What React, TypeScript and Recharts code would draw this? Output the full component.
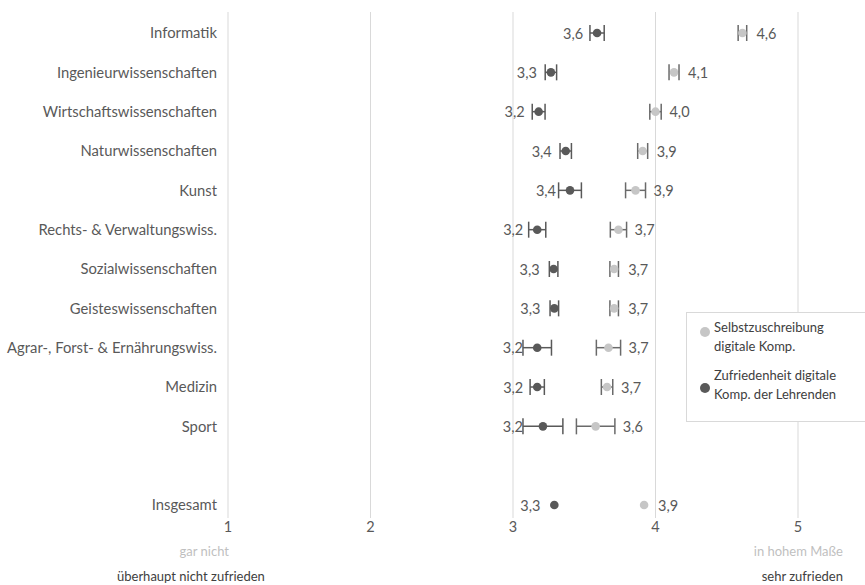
import React from "react";
import { ScatterChart, Scatter, XAxis, YAxis, CartesianGrid, ErrorBar } from "recharts";

const categories = [
  "Informatik",
  "Ingenieurwissenschaften",
  "Wirtschaftswissenschaften",
  "Naturwissenschaften",
  "Kunst",
  "Rechts- & Verwaltungswiss.",
  "Sozialwissenschaften",
  "Geisteswissenschaften",
  "Agrar-, Forst- & Ernährungswiss.",
  "Medizin",
  "Sport",
  "",
  "Insgesamt",
];
const selfValues = [4.61, 4.13, 4.0, 3.91, 3.86, 3.74, 3.71, 3.71, 3.67, 3.66, 3.58, null, 3.92];
const selfErr = [0.03, 0.035, 0.04, 0.035, 0.07, 0.057, 0.03, 0.03, 0.085, 0.04, 0.135, null, 0];
const teacherValues = [3.59, 3.266, 3.18, 3.37, 3.4, 3.17, 3.285, 3.29, 3.17, 3.17, 3.21, null, 3.29];
const teacherErr = [0.05, 0.04, 0.045, 0.04, 0.08, 0.06, 0.03, 0.03, 0.1, 0.05, 0.14, null, 0];
const xTicks = [1, 2, 3, 4, 5];
const legendLines = [
  ["Selbstzuschreibung", "digitale Komp."],
  ["Zufriedenheit digitale", "Komp. der Lehrenden"],
];

const FONT = "Lato, 'Open Sans', sans-serif";
const DARK = "#595959";
const LIGHT = "#c6c6c6";

const fmt = (v: number) => v.toFixed(1).replace(".", ",");

const build = (vals: (number | null)[], errs: (number | null)[]) =>
  vals
    .map((v, i) => (v == null ? null : { x: v, y: i, err: errs[i] ?? 0, label: fmt(v) }))
    .filter(Boolean) as { x: number; y: number; err: number; label: string }[];

const selfData = build(selfValues, selfErr);
const teacherData = build(teacherValues, teacherErr);
const selfLabelData = selfData.map((d) => ({ ...d, x: d.x + Math.max(0.098, d.err + 0.056) }));
const teacherLabelData = teacherData.map((d) => ({ ...d, x: d.x - Math.max(0.098, d.err) }));

const Dot = (color: string) => (p: any) => <circle cx={p.cx} cy={p.cy} r={4.3} fill={color} />;
const LabelShape = (anchor: "start" | "end") => (p: any) => (
  <text
    x={p.cx}
    y={p.cy}
    textAnchor={anchor}
    dominantBaseline="central"
    fontFamily={FONT}
    fontSize={14.5}
    fill={DARK}
  >
    {p.payload.label}
  </text>
);

const LegendBox = () => (
  <div
    style={{
      position: "absolute",
      left: 686,
      top: 312,
      border: "1px solid #d9d9d9",
      width: 182,
      height: 110,
      background: "#fff",
      fontFamily: FONT,
      fontSize: 13,
      color: "#404040",
      boxSizing: "border-box",
    }}
  >
    {[
      { color: LIGHT, lines: legendLines[0], top: 5 },
      { color: DARK, lines: legendLines[1], top: 53 },
    ].map((it, k) => (
      <div key={k} style={{ position: "absolute", left: 13, top: it.top, display: "flex", alignItems: "center" }}>
        <span
          style={{
            width: 10,
            height: 10,
            borderRadius: 5,
            background: it.color,
            display: "inline-block",
            marginRight: 4,
            marginTop: k === 0 ? -10 : 6,
          }}
        />
        <div style={{ lineHeight: "19px" }}>
          {it.lines.map((l) => (
            <div key={l}>{l}</div>
          ))}
        </div>
      </div>
    ))}
  </div>
);

const txt = (style: React.CSSProperties, content: string, color: string) => (
  <div
    style={{
      position: "absolute",
      fontFamily: FONT,
      fontSize: 13,
      color,
      whiteSpace: "nowrap",
      ...style,
    }}
  >
    {content}
  </div>
);

export default function App() {
  return (
    <div style={{ position: "absolute", left: 0, top: 0, width: 865, height: 585, background: "#fff" }}>
      <ScatterChart width={865} height={585} margin={{ top: 12, right: 67, bottom: 0, left: 0 }}>
        <CartesianGrid horizontal={false} stroke="#d9d9d9" strokeWidth={1} />
        <XAxis
          type="number"
          dataKey="x"
          domain={[1, 5]}
          ticks={xTicks}
          axisLine={false}
          tickLine={false}
          tickSize={0}
          tickMargin={4}
          height={67}
          tick={{ fontFamily: FONT, fontSize: 14.5, fill: DARK }}
          allowDataOverflow
        />
        <YAxis
          type="number"
          dataKey="y"
          domain={[-0.534, 12.33]}
          reversed
          ticks={categories.map((_, i) => i)}
          interval={0}
          tickFormatter={(i: number) => categories[i] ?? ""}
          axisLine={false}
          tickLine={false}
          tickSize={0}
          tickMargin={11}
          width={228}
          tick={{ fontFamily: FONT, fontSize: 14.8, fill: DARK }}
          allowDataOverflow
        />
        <Scatter name="Selbstzuschreibung digitale Komp." data={selfData} isAnimationActive={false} shape={Dot(LIGHT)}>
          <ErrorBar dataKey="err" direction="x" width={8} stroke="#6a6a6a" strokeWidth={1.5} />
        </Scatter>
        <Scatter name="Zufriedenheit digitale Komp. der Lehrenden" data={teacherData} isAnimationActive={false} shape={Dot(DARK)}>
          <ErrorBar dataKey="err" direction="x" width={8} stroke={DARK} strokeWidth={1.5} />
        </Scatter>
        <Scatter data={selfLabelData} isAnimationActive={false} shape={LabelShape("start")} legendType="none" />
        <Scatter data={teacherLabelData} isAnimationActive={false} shape={LabelShape("end")} legendType="none" />
      </ScatterChart>
      <LegendBox />
      {txt({ right: 865 - 229, top: 543 }, "gar nicht", "#bfbfbf")}
      {txt({ left: 117, top: 568 }, "überhaupt nicht zufrieden", "#404040")}
      {txt({ right: 865 - 843, top: 543 }, "in hohem Maße", "#bfbfbf")}
      {txt({ right: 865 - 843, top: 568 }, "sehr zufrieden", "#404040")}
    </div>
  );
}
